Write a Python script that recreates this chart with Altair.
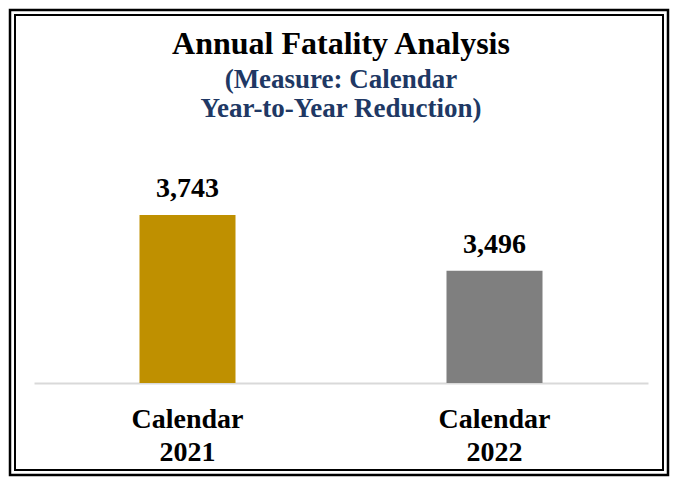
import altair as alt
import pandas as pd

categories = ["Calendar 2021", "Calendar 2022"]
values = [3743, 3496]
bar_colors = ["#BF9000", "#7F7F7F"]

title_text = "Annual Fatality Analysis"
subtitle_lines = ["(Measure: Calendar", "Year-to-Year Reduction)"]

SERIF = "Liberation Serif"

# layout (pixels)
W, H = 614, 181
L, T, R, B = 26, 194, 22, 94
TOTAL_W, TOTAL_H = W + L + R, H + T + B

df = pd.DataFrame({"period": categories, "fatalities": values, "color": bar_colors})

base = alt.Chart(df).encode(
    x=alt.X(
        "period:N",
        sort=categories,
        scale=alt.Scale(paddingInner=0, paddingOuter=0),
        axis=alt.Axis(
            title=None,
            labelAngle=0,
            labelExpr="split(datum.label, ' ')",
            labelFont=SERIF,
            labelFontSize=28,
            labelFontWeight="bold",
            labelColor="black",
            labelLineHeight=33,
            labelPadding=22,
            ticks=False,
            grid=False,
            domainColor="#D9D9D9",
            domainWidth=2,
        ),
    ),
    y=alt.Y(
        "fatalities:Q",
        scale=alt.Scale(domain=[3000, 3800], zero=False, clamp=True),
        axis=None,
    ),
)

bars = base.mark_bar(size=96).encode(color=alt.Color("color:N", scale=None))

labels = base.mark_text(
    dy=-18,
    baseline="alphabetic",
    font=SERIF,
    fontSize=28,
    fontWeight="bold",
    color="black",
).encode(text=alt.Text("fatalities:Q", format=","))

frame_data = alt.Data(values=[{"k": 0}])
outer = alt.Chart(frame_data).mark_rect(
    fillOpacity=0, stroke="black", strokeWidth=2.5
).encode(
    x=alt.value(2 - L), x2=alt.value(TOTAL_W - 2 - L),
    y=alt.value(2 - T), y2=alt.value(TOTAL_H - 2 - T),
)
inner = alt.Chart(frame_data).mark_rect(
    fillOpacity=0, stroke="black", strokeWidth=2
).encode(
    x=alt.value(7 - L), x2=alt.value(TOTAL_W - 7 - L),
    y=alt.value(7 - T), y2=alt.value(TOTAL_H - 7 - T),
)

chart = alt.layer(outer, inner, bars, labels).properties(
    width=W,
    height=H,
    padding={"left": L, "top": T, "right": R, "bottom": B},
    autosize=alt.AutoSizeParams(type="none"),
    background="white",
    title=alt.Title(
        title_text,
        subtitle=subtitle_lines,
        font=SERIF,
        fontSize=32,
        fontWeight="bold",
        color="black",
        subtitleFont=SERIF,
        subtitleFontSize=27,
        subtitleFontWeight="bold",
        subtitleColor="#203864",
        subtitleLineHeight=29,
        subtitlePadding=6,
        anchor="middle",
        frame="group",
        offset=0,
        dy=114,
    ),
).configure_view(stroke=None)

chart.save("out.html", embed_options={"renderer": "svg", "actions": False})
